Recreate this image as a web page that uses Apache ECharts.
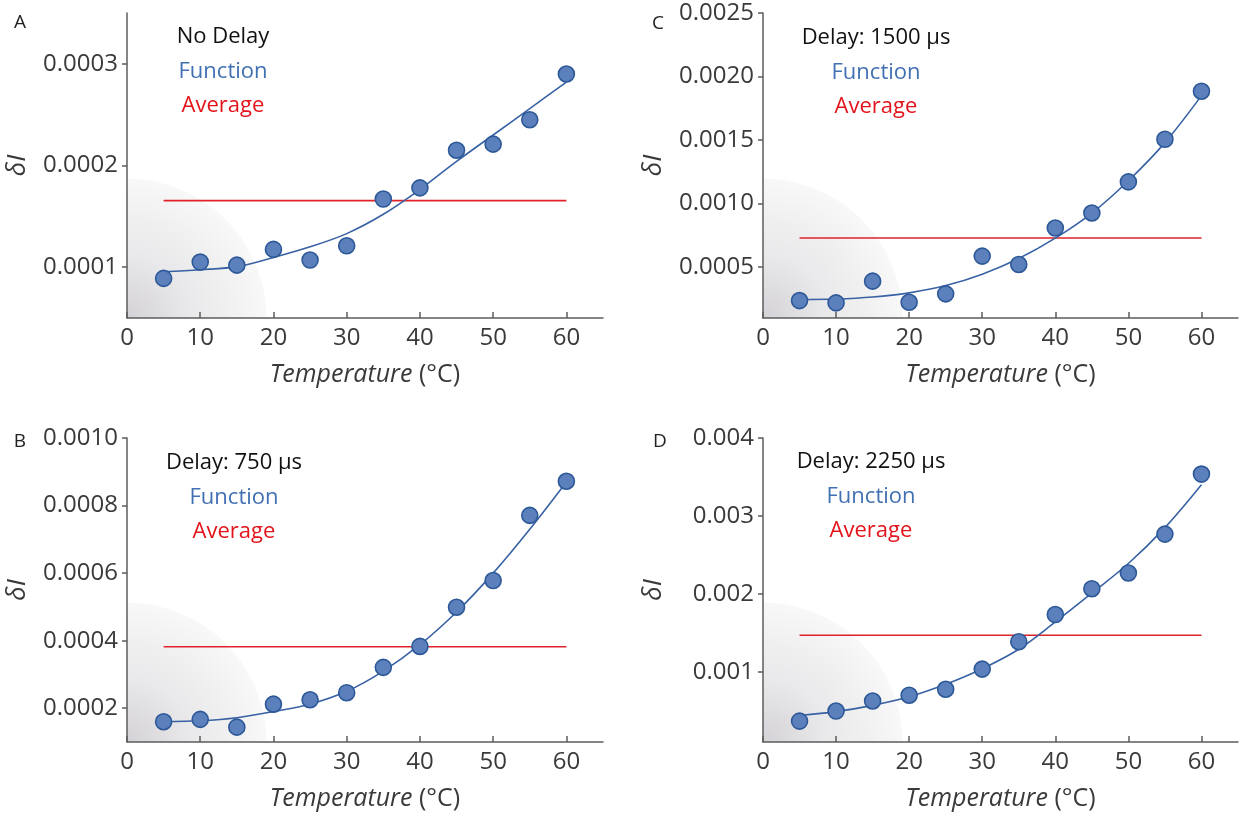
<!DOCTYPE html>
<html>
<head>
<meta charset="utf-8">
<script src="https://cdn.jsdelivr.net/npm/echarts@6/dist/echarts.min.js"></script>
<style>
  html, body { margin: 0; padding: 0; background: #fff; }
  #main { width: 1245px; height: 816px; }
</style>
</head>
<body>
<div id="main"></div>
<script>
// temperatures (°C) shared by all four panels
const temps = [5, 10, 15, 20, 25, 30, 35, 40, 45, 50, 55, 60];
const xTicks = [0, 10, 20, 30, 40, 50, 60];

// A: no delay
const pointsA = [0.000089, 0.000105, 0.000102, 0.0001175, 0.000107, 0.000121, 0.000167, 0.000178, 0.000215, 0.000221, 0.000245, 0.00029];
const fitA = [0.0000955, 0.0000975, 0.0001005, 0.0001095, 0.00012, 0.000133, 0.000152, 0.0001765, 0.000204, 0.00023, 0.000256, 0.000282];
const avgA = 0.0001655;
const yTicksA = [0.0001, 0.0002, 0.0003];

// B: delay 750 us
const pointsB = [0.00016, 0.000167, 0.000144, 0.000212, 0.000225, 0.000246, 0.000321, 0.000383, 0.000499, 0.000578, 0.000771, 0.000872];
const fitB = [0.00016, 0.000163, 0.000172, 0.00019, 0.000212, 0.00025, 0.00031, 0.000388, 0.000485, 0.0006, 0.00073, 0.00087];
const avgB = 0.000382;
const yTicksB = [0.0002, 0.0004, 0.0006, 0.0008, 0.0010];

// C: delay 1500 us
const pointsC = [0.000237, 0.000219, 0.00039, 0.000224, 0.00029, 0.000587, 0.000521, 0.000808, 0.000926, 0.001171, 0.001506, 0.001884];
const fitC = [0.000245, 0.000249, 0.000265, 0.000298, 0.000355, 0.000445, 0.000568, 0.000728, 0.000925, 0.00118, 0.00148, 0.00185];
const avgC = 0.000729;
const yTicksC = [0.0005, 0.0010, 0.0015, 0.0020, 0.0025];

// D: delay 2250 us
const pointsD = [0.000368, 0.000497, 0.000626, 0.0007, 0.000777, 0.001035, 0.001387, 0.001735, 0.002066, 0.002268, 0.002767, 0.003537];
const fitD = [0.00044, 0.00049, 0.00057, 0.00068, 0.00084, 0.00104, 0.00129, 0.00164, 0.00201, 0.00239, 0.00285, 0.0034];
const avgD = 0.00147;
const yTicksD = [0.001, 0.002, 0.003, 0.004];

const panels = [
  { letter: 'A', title: 'No Delay', pts: pointsA, fit: fitA, avg: avgA, ticks: yTicksA, dec: 4,
    yMin: 0.00005, yMax: 0.00035, grid: { left: 127, top: 13, width: 476, height: 305 },
    letterPos: [20, 23], textX: 223, textY: 37 },
  { letter: 'B', title: 'Delay: 750 μs', pts: pointsB, fit: fitB, avg: avgB, ticks: yTicksB, dec: 4,
    yMin: 0.0001, yMax: 0.0010, grid: { left: 127, top: 438, width: 476, height: 304 },
    letterPos: [20, 442], textX: 234, textY: 463 },
  { letter: 'C', title: 'Delay: 1500 μs', pts: pointsC, fit: fitC, avg: avgC, ticks: yTicksC, dec: 4,
    yMin: 0.0001, yMax: 0.0025, grid: { left: 763, top: 13, width: 475, height: 305 },
    letterPos: [658, 24], textX: 876, textY: 38 },
  { letter: 'D', title: 'Delay: 2250 μs', pts: pointsD, fit: fitD, avg: avgD, ticks: yTicksD, dec: 3,
    yMin: 0.0001, yMax: 0.004, grid: { left: 763, top: 438, width: 475, height: 304 },
    letterPos: [660, 442], textX: 871, textY: 462 }
];

const FONT = '"Open Sans", "Noto Sans", sans-serif';
const axisColor = '#5c5c5c';
const labelColor = '#3a3a3a';

const grids = [], xAxes = [], yAxes = [], series = [], graphics = [];

panels.forEach((p, i) => {
  grids.push(Object.assign({
    show: true,
    borderWidth: 0,
    outerBoundsMode: 'none',
    backgroundColor: {
      type: 'radial', x: 0, y: 1, r: 140 / p.grid.height,
      colorStops: [
        { offset: 0, color: '#d4d2d6' },
        { offset: 0.45, color: '#e9e8ea' },
        { offset: 0.99, color: '#f8f8f8' },
        { offset: 1, color: '#ffffff' }
      ]
    }
  }, p.grid));

  xAxes.push({
    gridIndex: i, type: 'value', min: 0, max: 65,
    name: '{i|Temperature}{n| (°C)}', nameLocation: 'middle', nameGap: 44,
    nameTextStyle: {
      rich: {
        i: { fontFamily: FONT, fontSize: 25, fontStyle: 'italic', color: labelColor },
        n: { fontFamily: FONT, fontSize: 25, color: labelColor }
      }
    },
    splitLine: { show: false },
    axisLine: { lineStyle: { color: axisColor, width: 1.5 } },
    axisTick: { inside: true, length: 6, lineStyle: { color: axisColor, width: 1.5 }, customValues: xTicks },
    axisLabel: { customValues: xTicks, margin: 8, fontFamily: FONT, fontSize: 24, color: labelColor }
  });

  yAxes.push({
    gridIndex: i, type: 'value', min: p.yMin, max: p.yMax,
    name: 'δI', nameLocation: 'middle', nameGap: 96, nameRotate: 90,
    nameTextStyle: { fontFamily: FONT, fontSize: 26, fontStyle: 'italic', color: labelColor },
    splitLine: { show: false },
    axisLine: { show: true, lineStyle: { color: axisColor, width: 1.5 } },
    axisTick: { show: true, length: 5, lineStyle: { color: axisColor, width: 1.5 }, customValues: p.ticks },
    axisLabel: {
      customValues: p.ticks, margin: 9, fontFamily: FONT, fontSize: 24, color: labelColor,
      formatter: v => v.toFixed(p.dec)
    }
  });

  series.push({
    type: 'line', xAxisIndex: i, yAxisIndex: i, z: 1,
    data: [[temps[0], p.avg], [temps[temps.length - 1], p.avg]],
    showSymbol: false, lineStyle: { color: '#e0222a', width: 1.6 }
  });
  series.push({
    type: 'line', xAxisIndex: i, yAxisIndex: i, z: 2, smooth: 0.35,
    data: temps.map((t, j) => [t, p.fit[j]]),
    showSymbol: false, lineStyle: { color: '#3862a4', width: 1.6 }
  });
  series.push({
    type: 'scatter', xAxisIndex: i, yAxisIndex: i, z: 3,
    data: temps.map((t, j) => [t, p.pts[j]]),
    symbolSize: 16,
    itemStyle: { color: '#5b80bc', borderColor: '#2d5898', borderWidth: 1.6, opacity: 1 }
  });

  graphics.push({
    type: 'text', x: p.letterPos[0], y: p.letterPos[1],
    style: { text: p.letter, fontSize: 19, fontFamily: FONT, fill: '#222', align: 'center', verticalAlign: 'middle' }
  });
  const lines = [[p.title, '#111'], ['Function', '#4170b3'], ['Average', '#e3141c']];
  lines.forEach((ln, k) => {
    graphics.push({
      type: 'text', x: p.textX, y: p.textY + k * 34.5,
      style: { text: ln[0], fontSize: 22, fontFamily: FONT, fill: ln[1], align: 'center', verticalAlign: 'middle' }
    });
  });
});

const chart = echarts.init(document.getElementById('main'));
chart.setOption({
  animation: false,
  backgroundColor: '#fff',
  grid: grids,
  xAxis: xAxes,
  yAxis: yAxes,
  series: series,
  graphic: graphics
});
</script>
</body>
</html>
